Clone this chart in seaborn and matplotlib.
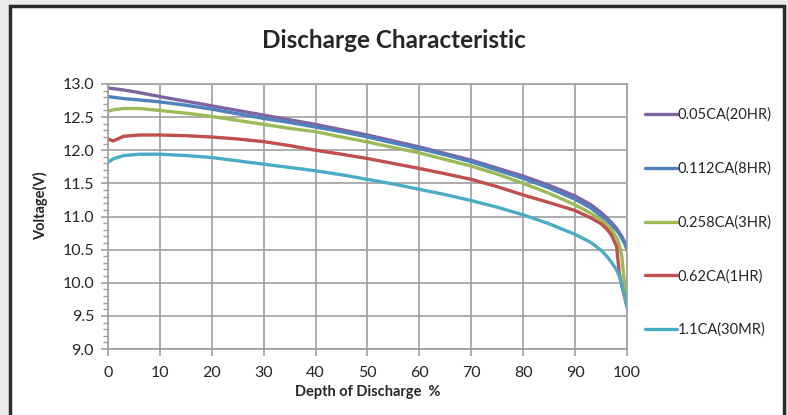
"""Discharge characteristic chart."""
import numpy as np
import pandas as pd
import seaborn as sns

from matplotlib import pyplot as plt
from matplotlib.patches import Rectangle
from matplotlib.ticker import MultipleLocator


depth = [0, 1, 3, 6, 10, 15, 20, 25, 30, 35, 40, 45, 50, 55, 60, 65, 70,
         75, 80, 85, 90, 93, 95, 96, 97, 98, 98.5, 99, 99.5, 100]

v_20hr = [12.94, 12.93, 12.91, 12.87, 12.81, 12.74, 12.67, 12.60, 12.53,
          12.46, 12.39, 12.31, 12.23, 12.14, 12.05, 11.95, 11.85, 11.73,
          11.61, 11.47, 11.31, 11.18, 11.06, 10.99, 10.91, 10.82, 10.76,
          10.70, 10.62, 10.55]
v_8hr = [12.81, 12.80, 12.78, 12.76, 12.73, 12.68, 12.62, 12.55, 12.48,
         12.42, 12.35, 12.28, 12.20, 12.11, 12.025, 11.93, 11.825, 11.70,
         11.575, 11.43, 11.26, 11.13, 11.01, 10.95, 10.875, 10.79, 10.74,
         10.67, 10.60, 10.50]
v_3hr = [12.59, 12.61, 12.63, 12.63, 12.60, 12.56, 12.51, 12.45, 12.39,
         12.33, 12.28, 12.20, 12.125, 12.04, 11.96, 11.86, 11.76, 11.64,
         11.50, 11.35, 11.175, 11.05, 10.95, 10.88, 10.80, 10.68, 10.58,
         10.40, 10.00, 9.70]
v_1hr = [12.17, 12.14, 12.21, 12.23, 12.23, 12.22, 12.20, 12.17, 12.13,
         12.07, 12.00, 11.94, 11.875, 11.80, 11.725, 11.645, 11.56, 11.45,
         11.325, 11.21, 11.09, 10.98, 10.89, 10.82, 10.72, 10.55, 10.15,
         9.95, 9.80, 9.65]
v_30mr = [11.82, 11.87, 11.92, 11.94, 11.94, 11.92, 11.89, 11.84, 11.79,
          11.74, 11.69, 11.63, 11.56, 11.49, 11.41, 11.33, 11.24, 11.14,
          11.025, 10.89, 10.73, 10.61, 10.49, 10.41, 10.31, 10.19, 10.10,
          9.98, 9.82, 9.62]

labels = ["0.05CA(20HR)", "0.112CA(8HR)", "0.258CA(3HR)", "0.62CA(1HR)",
          "1.1CA(30MR)"]
colors = ["#8064A2", "#4F81BD", "#9BBB59", "#C0504D", "#4BACC6"]

series = [v_20hr, v_8hr, v_3hr, v_1hr, v_30mr]
df = pd.concat([
    pd.DataFrame({"depth": depth, "voltage": vals, "rate": lab})
    for lab, vals in zip(labels, series)
])

sns.set_style("white")
plt.rcParams["font.family"] = ["Lato", "DejaVu Sans"]

fig = plt.figure(figsize=(7.88, 4.15), dpi=100, facecolor="#ebebeb")
# white panel with dark frame, open at the bottom
fig.patches.append(Rectangle(
    (10 / 788, -0.1), 774 / 788, 1.1 - 6 / 415,
    transform=fig.transFigure, facecolor="white", edgecolor="#2b2b2b",
    linewidth=2.5, zorder=-5,
))
ax = fig.add_axes([108 / 788, 1 - 349 / 415, 519 / 788, 265 / 415])
ax.set_zorder(2)
ax.patch.set_alpha(0)

sns.lineplot(data=df, x="depth", y="voltage", hue="rate",
             palette=colors, linewidth=2.4, ax=ax, sort=False)

ax.set_xlim(0, 100)
ax.set_ylim(9, 13)
ax.xaxis.set_major_locator(MultipleLocator(10))
ax.yaxis.set_major_locator(MultipleLocator(0.5))
ax.yaxis.set_minor_locator(MultipleLocator(0.1))
ax.yaxis.set_major_formatter(plt.FormatStrFormatter("%.1f"))
ax.grid(False, which="minor")
ax.grid(True, which="major", color="#a0a0a0", linewidth=1.2)
ax.set_axisbelow(True)
for sp in ax.spines.values():
    sp.set_color("#a0a0a0")
    sp.set_linewidth(1.2)
ax.tick_params(axis="both", which="major", direction="out", length=5,
               width=1.2, color="#a0a0a0", labelsize=11.5, left=True,
               bottom=True)
ax.tick_params(axis="y", which="major", pad=5)
ax.tick_params(axis="x", which="major", pad=7)
ax.tick_params(axis="y", which="minor", direction="out", length=3.5,
               width=1, color="#a0a0a0", left=True)

ax.set_xlabel("Depth of Discharge  %", fontsize=10.5, fontweight="bold",
              labelpad=4)
ax.set_ylabel("Voltage(V)", fontsize=10.5, fontweight="bold")
ax.yaxis.set_label_coords(-0.115, 0.54)

fig.text(394 / 788, 1 - 40 / 415, "Discharge Characteristic",
         ha="center", va="center", fontsize=17.5, fontweight="bold")

handles, labs = ax.get_legend_handles_labels()
ax.legend(handles, labs, loc="upper left", bbox_to_anchor=(1.035, 0.91),
          frameon=False, fontsize=10.5, handlelength=2.2, handletextpad=0.05,
          labelspacing=2.7, borderpad=0, borderaxespad=0)

fig.savefig("out.png", dpi=100, facecolor=fig.get_facecolor())
